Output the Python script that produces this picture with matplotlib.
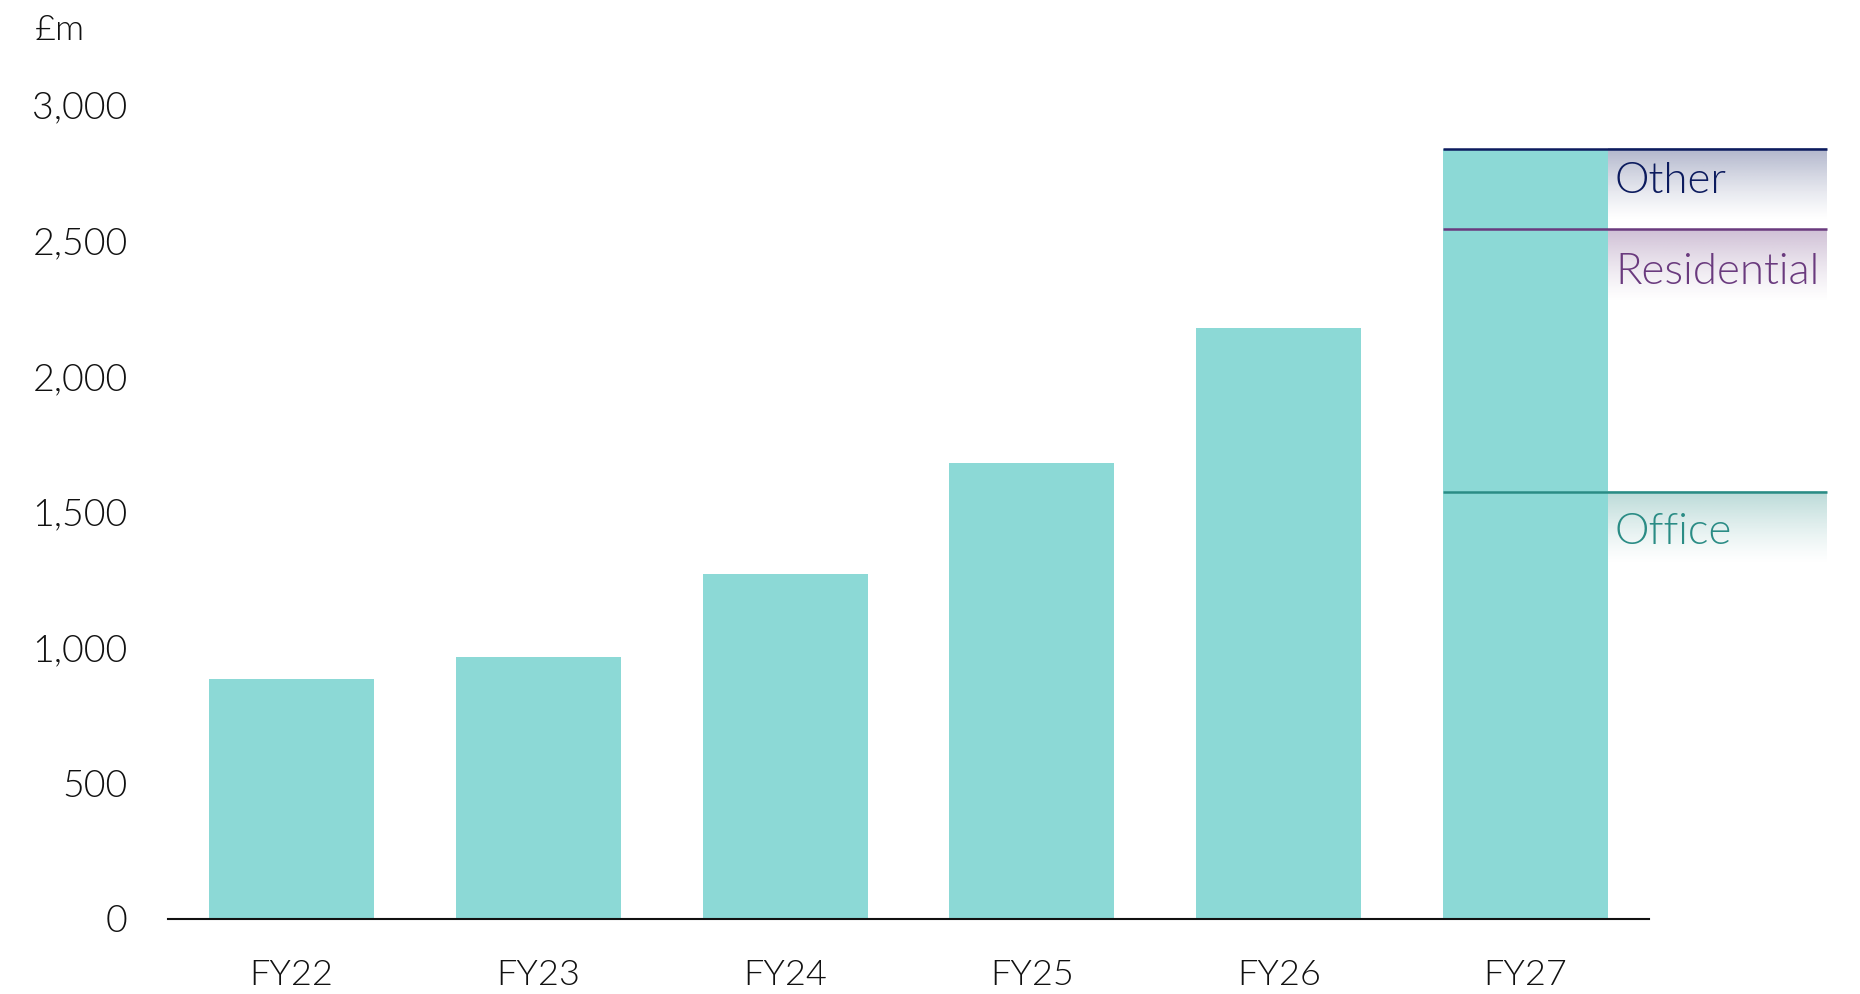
import numpy as np
import matplotlib
matplotlib.use("Agg")
import matplotlib.pyplot as plt
from matplotlib.colors import to_rgb

# ---- data ----
years = ["FY22", "FY23", "FY24", "FY25", "FY26", "FY27"]
totals = [886, 965, 1271, 1680, 2178, 2837]
fy27_segments = ["Office", "Residential", "Other"]
fy27_values = [1574, 968, 295]
yticks = [0, 500, 1000, 1500, 2000, 2500, 3000]

bar_color = "#8CD9D6"
seg_colors = {"Office": "#2A8C85", "Residential": "#6A3A7E", "Other": "#0C1B5E"}
label_offsets = {"Office": -29.5, "Residential": -31, "Other": -23.5}

WEIGHT = 300
plt.rcParams['font.family'] = ['Lato', 'DejaVu Sans']
plt.rcParams['font.weight'] = WEIGHT

W, H = 1860, 994
fig = plt.figure(figsize=(W / 100, H / 100), dpi=100)
ax = fig.add_axes([168 / W, 1 - 919 / H, (1649 - 168) / W, (919 - 105) / H])

x = np.arange(len(years))
bw = 0.668
ax.bar(x, totals, width=bw, color=bar_color, zorder=2)

ax.set_xlim(-0.5, len(years) - 0.5)
ax.set_ylim(0, 3000)
ax.set_yticks(yticks)
ax.set_yticklabels([f"{v:,}" for v in yticks])
ax.set_xticks(x)
ax.set_xticklabels(years)
ax.tick_params(axis='y', length=0, pad=29, labelsize=27, labelcolor="#111111")
ax.tick_params(axis='x', length=0, pad=29, labelsize=26, labelcolor="#111111")
for lbl in ax.get_xticklabels() + ax.get_yticklabels():
    lbl.set_fontweight(WEIGHT)
for s in ["left", "right", "top"]:
    ax.spines[s].set_visible(False)
ax.spines["bottom"].set_linewidth(1.5)
ax.spines["bottom"].set_color("#111111")
ax.spines["bottom"].set_zorder(5)

# FY27 segment annotations
last = len(years) - 1
bar_left = last - bw / 2
bar_right = last + bw / 2
right_end = 1.120  # axes fraction
x_right_data = ax.transData.inverted().transform(
    ax.transAxes.transform((right_end, 0)))[0]
cum = np.cumsum(fy27_values)
grad_h = 270
for name, level in zip(fy27_segments, cum):
    c = seg_colors[name]
    ax.plot([bar_left, x_right_data], [level, level], color=c, lw=1.8,
            clip_on=False, zorder=4, solid_capstyle='butt')
    rgb = to_rgb(c)
    n = 100
    grad = np.zeros((n, 2, 4))
    grad[:, :, :3] = rgb
    alpha = np.linspace(0.42, 0.0, n) ** 1.3
    grad[:, :, 3] = alpha[:, None]
    ax.imshow(grad, extent=[bar_right, x_right_data, level - grad_h, level],
              aspect='auto', origin='upper', clip_on=False, zorder=1,
              interpolation='bilinear')
    ax.annotate(name, xy=(bar_right, level), xytext=(5, label_offsets[name]),
                textcoords='offset points', ha='left', va='center',
                fontsize=31.5, fontweight=WEIGHT, color=c, zorder=6,
                annotation_clip=False)

ax.set_xlim(-0.5, len(years) - 0.5)
ax.set_ylim(0, 3000)

fig.text(35 / W, 1 - 30 / H, "£m", ha='left', va='center', fontsize=26,
         fontweight=WEIGHT, color="#111111")

fig.savefig("out.png", dpi=100, facecolor="white")
